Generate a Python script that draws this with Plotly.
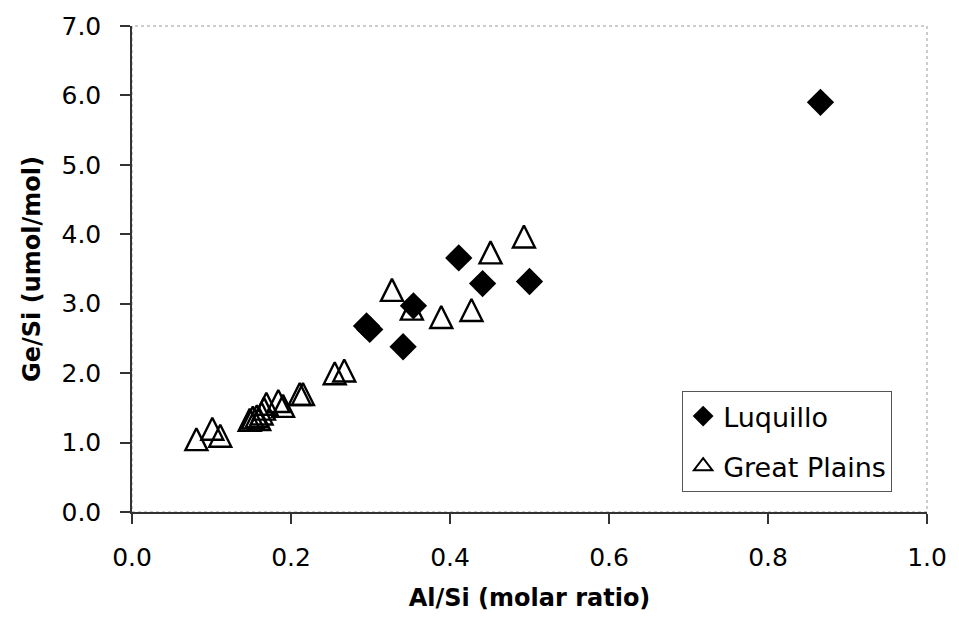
import plotly.graph_objects as go

# Luquillo (filled diamonds)
luq_x = [0.866, 0.411, 0.441, 0.500, 0.354, 0.295, 0.299, 0.341]
luq_y = [5.90, 3.66, 3.29, 3.32, 2.97, 2.68, 2.63, 2.38]

# Great Plains (open triangles)
gp_x = [0.493, 0.451, 0.327, 0.352, 0.389, 0.427, 0.255, 0.267,
        0.211, 0.215, 0.184, 0.169, 0.190, 0.148, 0.152, 0.157,
        0.160, 0.163, 0.166, 0.081, 0.101, 0.111]
gp_y = [3.97, 3.74, 3.20, 2.93, 2.81, 2.91, 2.00, 2.04,
        1.70, 1.70, 1.60, 1.56, 1.53, 1.33, 1.36, 1.38,
        1.34, 1.42, 1.49, 1.05, 1.20, 1.10]

x_ticks = [0.0, 0.2, 0.4, 0.6, 0.8, 1.0]
y_ticks = [0.0, 1.0, 2.0, 3.0, 4.0, 5.0, 6.0, 7.0]

FONT = "DejaVu Sans, Verdana, sans-serif"
TRI = 22           # triangle marker size (px)
PLOT_H = 489       # plot area height (px)
y_shift = (TRI / 2) / (PLOT_H / 7.0)  # centre the apex-anchored triangle on its point

fig = go.Figure()

# Great Plains data (arrow-up is anchored at its apex; secondary axis recentres it)
fig.add_trace(go.Scatter(
    x=gp_x, y=gp_y, mode="markers", yaxis="y2", showlegend=False,
    marker=dict(symbol="arrow-up-open", size=TRI, color="black",
                line=dict(color="black", width=2.4)),
    hoverinfo="x+y"))

# Luquillo
fig.add_trace(go.Scatter(
    x=luq_x, y=luq_y, mode="markers", name="Luquillo",
    legendgroup="a",
    marker=dict(symbol="diamond", size=21, color="black",
                line=dict(width=0))))

# legend entry for Great Plains
fig.add_trace(go.Scatter(
    x=[None], y=[None], mode="markers", name="Great Plains",
    legendgroup="b",
    marker=dict(symbol="triangle-up-open", size=20, color="black",
                line=dict(color="black", width=2))))

fig.add_shape(type="rect", xref="paper", yref="paper", x0=0, y0=0, x1=1, y1=1,
              line=dict(color="#9a9a9a", width=1, dash="dot"), layer="below")

axis_common = dict(showgrid=False, zeroline=False, showline=True,
                   linecolor="#333333", linewidth=1.5, ticks="outside",
                   tickcolor="#333333", tickwidth=1.5, ticklen=10,
                   tickfont=dict(family=FONT, size=25, color="black"))

fig.update_layout(
    width=959, height=632,
    margin=dict(l=132, r=26, t=23, b=120),
    paper_bgcolor="white", plot_bgcolor="white",
    font=dict(family=FONT, color="black"),
    xaxis=dict(range=[0, 1.0], tickvals=x_ticks,
               ticktext=[f"{v:.1f}" for v in x_ticks],
               ticklabelstandoff=12,
               title=dict(text="<b>Al/Si (molar ratio)</b>",
                          font=dict(family=FONT, size=24, color="black"),
                          standoff=18),
               **axis_common),
    yaxis=dict(range=[0, 7.0], tickvals=y_ticks,
               ticktext=[f"{v:.1f}" for v in y_ticks],
               ticklabelstandoff=14,
               title=dict(text="<b>Ge/Si (umol/mol)</b>",
                          font=dict(family=FONT, size=24, color="black"),
                          standoff=14),
               **axis_common),
    yaxis2=dict(range=[-y_shift, 7.0 - y_shift], overlaying="y",
                visible=False, showgrid=False, zeroline=False),
    legend=dict(x=0.692, y=0.249, xanchor="left", yanchor="top",
                bgcolor="white", bordercolor="#555555", borderwidth=1,
                font=dict(family=FONT, size=27, color="black"),
                traceorder="grouped", tracegroupgap=12,
                itemwidth=30),
    showlegend=True,
)

fig.write_html("out.html")
